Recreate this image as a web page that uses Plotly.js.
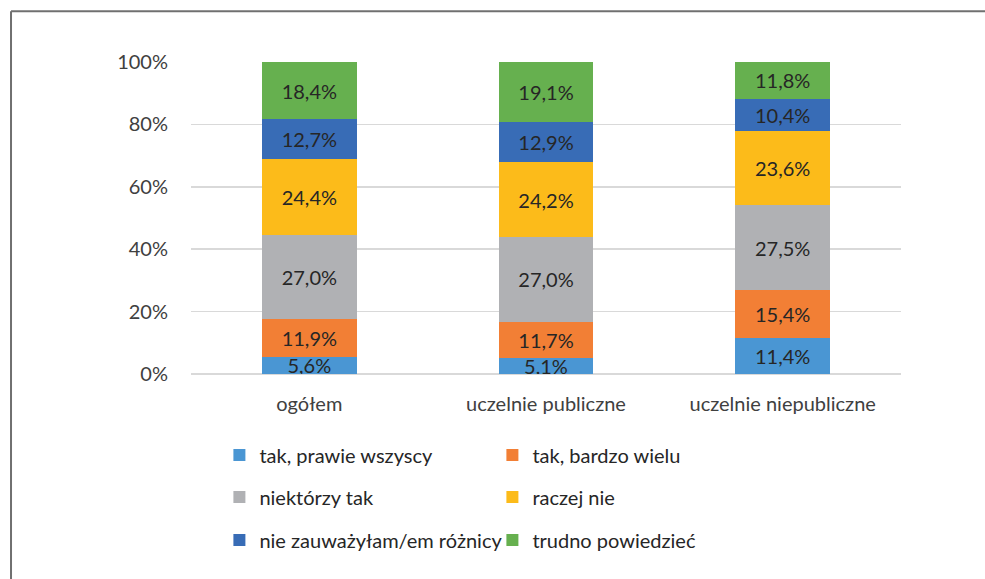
<!DOCTYPE html>
<html>
<head>
<meta charset="utf-8">
<script src="https://cdn.plot.ly/plotly-3.0.1.min.js"></script>
<style>html,body{margin:0;padding:0;background:#fff;}#chart{width:985px;height:579px;}</style>
</head>
<body>
<div id="chart"></div>
<script>
var categories = ['ogółem', 'uczelnie publiczne', 'uczelnie niepubliczne'];
var seriesNames = ['tak, prawie wszyscy', 'tak, bardzo wielu', 'niektórzy tak', 'raczej nie', 'nie zauważyłam/em różnicy', 'trudno powiedzieć'];
var takPrawieWszyscy = [5.6, 5.1, 11.4];
var takBardzoWielu = [11.9, 11.7, 15.4];
var niektorzyTak = [27.0, 27.0, 27.5];
var raczejNie = [24.4, 24.2, 23.6];
var nieZauwazylam = [12.7, 12.9, 10.4];
var trudnoPowiedziec = [18.4, 19.1, 11.8];
var yTickVals = [0, 20, 40, 60, 80, 100];
var yTickText = ['0%', '20%', '40%', '60%', '80%', '100%'];

var seriesValues = [takPrawieWszyscy, takBardzoWielu, niektorzyTak, raczejNie, nieZauwazylam, trudnoPowiedziec];
var colors = ['#4a96d3', '#f27f35', '#b0b1b4', '#fcbb1a', '#386cb6', '#66b04f'];
var legendIds = ['legend', 'legend', 'legend2', 'legend2', 'legend3', 'legend3'];
var FONT = 'Lato, "Open Sans", sans-serif';

var traces = seriesValues.map(function (vals, i) {
  return {
    type: 'bar',
    name: seriesNames[i],
    x: categories,
    y: vals,
    text: vals.map(function (v) { return v.toFixed(1).replace('.', ',') + '%'; }),
    textposition: 'inside',
    insidetextanchor: 'middle',
    constraintext: 'none',
    textangle: 0,
    textfont: {family: FONT, size: 20, color: '#262626'},
    marker: {color: colors[i], line: {width: 0}},
    legend: legendIds[i],
    hoverinfo: 'skip'
  };
});

function legendAt(y) {
  return {
    orientation: 'h', x: 0.040, xanchor: 'left', y: y, yanchor: 'middle',
    font: {family: FONT, size: 20, color: '#262626'},
    entrywidth: 228, entrywidthmode: 'pixels',
    bgcolor: 'rgba(0,0,0,0)', traceorder: 'normal'
  };
}

var layout = {
  width: 985, height: 579,
  margin: {l: 191, r: 84, t: 62, b: 205},
  paper_bgcolor: '#ffffff', plot_bgcolor: '#ffffff',
  barmode: 'stack', barnorm: 'percent', bargap: 0.6,
  showlegend: true,
  xaxis: {
    tickfont: {family: FONT, size: 20, color: '#404040'},
    showgrid: false, showline: false, zeroline: false, ticks: '',
    ticklabelstandoff: 16
  },
  yaxis: {
    range: [0, 100], tickvals: yTickVals, ticktext: yTickText,
    tickfont: {family: FONT, size: 20, color: '#404040'},
    showgrid: true, gridcolor: '#d9d9d9', gridwidth: 1.5,
    zeroline: true, zerolinecolor: '#d9d9d9', zerolinewidth: 1.5,
    showline: false, ticks: '', ticklabelstandoff: 22
  },
  legend: legendAt(-0.26),
  legend2: legendAt(-0.394),
  legend3: legendAt(-0.532),
  shapes: [
    {type: 'line', xref: 'paper', yref: 'paper', x0: -0.2535, x1: 1.2, y0: 1.1625, y1: 1.1625, line: {color: '#707070', width: 2}},
    {type: 'line', xref: 'paper', yref: 'paper', x0: -0.2535, x1: -0.2535, y0: 1.1625, y1: -0.7, line: {color: '#707070', width: 2}}
  ]
};

Plotly.newPlot('chart', traces, layout, {displayModeBar: false, staticPlot: true});
</script>
</body>
</html>
